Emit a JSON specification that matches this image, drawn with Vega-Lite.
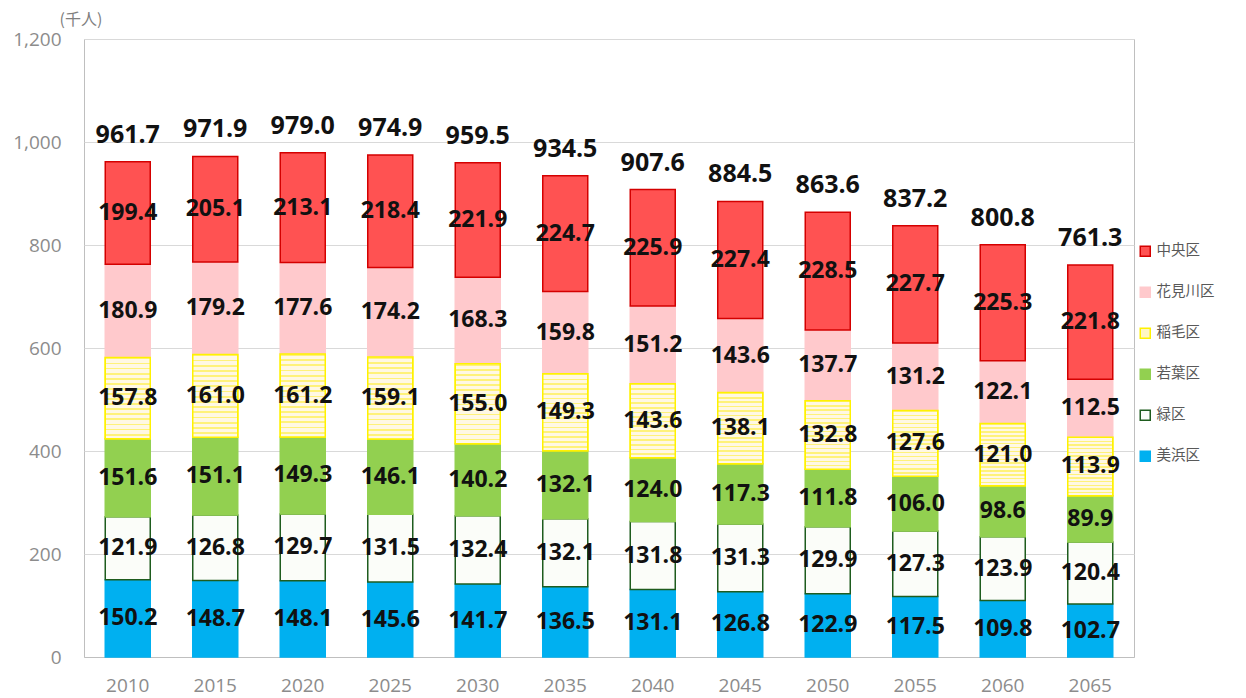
{
  "$schema": "https://vega.github.io/schema/vega-lite/v6.json",
  "width": 1050,
  "height": 618,
  "autosize": "none",
  "padding": {"left": 84, "top": 39, "right": 112, "bottom": 41},
  "background": "#ffffff",
  "config": {
    "view": {"stroke": "#bfbfbf", "strokeWidth": 1},
    "font": "Open Sans",
    "axisY": {
      "titleAngle": 0,
      "titleX": -25,
      "titleY": -20,
      "titleAlign": "left",
      "titleBaseline": "middle",
      "titleFont": "Noto Sans CJK JP",
      "titleFontSize": 16,
      "titleFontWeight": "normal",
      "titleColor": "#7f7f7f",
      "labelFont": "Open Sans",
      "labelFontSize": 19,
      "labelColor": "#8c8c8c",
      "labelPadding": 23,
      "ticks": false,
      "domain": false,
      "grid": true,
      "gridColor": "#d9d9d9",
      "gridWidth": 1
    }
  },
  "datasets": {
    "pop": [
      {"year": "2010", "ward": "美浜区", "code": 12106, "pop": 150.2},
      {"year": "2015", "ward": "美浜区", "code": 12106, "pop": 148.7},
      {"year": "2020", "ward": "美浜区", "code": 12106, "pop": 148.1},
      {"year": "2025", "ward": "美浜区", "code": 12106, "pop": 145.6},
      {"year": "2030", "ward": "美浜区", "code": 12106, "pop": 141.7},
      {"year": "2035", "ward": "美浜区", "code": 12106, "pop": 136.5},
      {"year": "2040", "ward": "美浜区", "code": 12106, "pop": 131.1},
      {"year": "2045", "ward": "美浜区", "code": 12106, "pop": 126.8},
      {"year": "2050", "ward": "美浜区", "code": 12106, "pop": 122.9},
      {"year": "2055", "ward": "美浜区", "code": 12106, "pop": 117.5},
      {"year": "2060", "ward": "美浜区", "code": 12106, "pop": 109.8},
      {"year": "2065", "ward": "美浜区", "code": 12106, "pop": 102.7},
      {"year": "2010", "ward": "緑区", "code": 12105, "pop": 121.9},
      {"year": "2015", "ward": "緑区", "code": 12105, "pop": 126.8},
      {"year": "2020", "ward": "緑区", "code": 12105, "pop": 129.7},
      {"year": "2025", "ward": "緑区", "code": 12105, "pop": 131.5},
      {"year": "2030", "ward": "緑区", "code": 12105, "pop": 132.4},
      {"year": "2035", "ward": "緑区", "code": 12105, "pop": 132.1},
      {"year": "2040", "ward": "緑区", "code": 12105, "pop": 131.8},
      {"year": "2045", "ward": "緑区", "code": 12105, "pop": 131.3},
      {"year": "2050", "ward": "緑区", "code": 12105, "pop": 129.9},
      {"year": "2055", "ward": "緑区", "code": 12105, "pop": 127.3},
      {"year": "2060", "ward": "緑区", "code": 12105, "pop": 123.9},
      {"year": "2065", "ward": "緑区", "code": 12105, "pop": 120.4},
      {"year": "2010", "ward": "若葉区", "code": 12104, "pop": 151.6},
      {"year": "2015", "ward": "若葉区", "code": 12104, "pop": 151.1},
      {"year": "2020", "ward": "若葉区", "code": 12104, "pop": 149.3},
      {"year": "2025", "ward": "若葉区", "code": 12104, "pop": 146.1},
      {"year": "2030", "ward": "若葉区", "code": 12104, "pop": 140.2},
      {"year": "2035", "ward": "若葉区", "code": 12104, "pop": 132.1},
      {"year": "2040", "ward": "若葉区", "code": 12104, "pop": 124.0},
      {"year": "2045", "ward": "若葉区", "code": 12104, "pop": 117.3},
      {"year": "2050", "ward": "若葉区", "code": 12104, "pop": 111.8},
      {"year": "2055", "ward": "若葉区", "code": 12104, "pop": 106.0},
      {"year": "2060", "ward": "若葉区", "code": 12104, "pop": 98.6},
      {"year": "2065", "ward": "若葉区", "code": 12104, "pop": 89.9},
      {"year": "2010", "ward": "稲毛区", "code": 12103, "pop": 157.8},
      {"year": "2015", "ward": "稲毛区", "code": 12103, "pop": 161.0},
      {"year": "2020", "ward": "稲毛区", "code": 12103, "pop": 161.2},
      {"year": "2025", "ward": "稲毛区", "code": 12103, "pop": 159.1},
      {"year": "2030", "ward": "稲毛区", "code": 12103, "pop": 155.0},
      {"year": "2035", "ward": "稲毛区", "code": 12103, "pop": 149.3},
      {"year": "2040", "ward": "稲毛区", "code": 12103, "pop": 143.6},
      {"year": "2045", "ward": "稲毛区", "code": 12103, "pop": 138.1},
      {"year": "2050", "ward": "稲毛区", "code": 12103, "pop": 132.8},
      {"year": "2055", "ward": "稲毛区", "code": 12103, "pop": 127.6},
      {"year": "2060", "ward": "稲毛区", "code": 12103, "pop": 121.0},
      {"year": "2065", "ward": "稲毛区", "code": 12103, "pop": 113.9},
      {"year": "2010", "ward": "花見川区", "code": 12102, "pop": 180.9},
      {"year": "2015", "ward": "花見川区", "code": 12102, "pop": 179.2},
      {"year": "2020", "ward": "花見川区", "code": 12102, "pop": 177.6},
      {"year": "2025", "ward": "花見川区", "code": 12102, "pop": 174.2},
      {"year": "2030", "ward": "花見川区", "code": 12102, "pop": 168.3},
      {"year": "2035", "ward": "花見川区", "code": 12102, "pop": 159.8},
      {"year": "2040", "ward": "花見川区", "code": 12102, "pop": 151.2},
      {"year": "2045", "ward": "花見川区", "code": 12102, "pop": 143.6},
      {"year": "2050", "ward": "花見川区", "code": 12102, "pop": 137.7},
      {"year": "2055", "ward": "花見川区", "code": 12102, "pop": 131.2},
      {"year": "2060", "ward": "花見川区", "code": 12102, "pop": 122.1},
      {"year": "2065", "ward": "花見川区", "code": 12102, "pop": 112.5},
      {"year": "2010", "ward": "中央区", "code": 12101, "pop": 199.4},
      {"year": "2015", "ward": "中央区", "code": 12101, "pop": 205.1},
      {"year": "2020", "ward": "中央区", "code": 12101, "pop": 213.1},
      {"year": "2025", "ward": "中央区", "code": 12101, "pop": 218.4},
      {"year": "2030", "ward": "中央区", "code": 12101, "pop": 221.9},
      {"year": "2035", "ward": "中央区", "code": 12101, "pop": 224.7},
      {"year": "2040", "ward": "中央区", "code": 12101, "pop": 225.9},
      {"year": "2045", "ward": "中央区", "code": 12101, "pop": 227.4},
      {"year": "2050", "ward": "中央区", "code": 12101, "pop": 228.5},
      {"year": "2055", "ward": "中央区", "code": 12101, "pop": 227.7},
      {"year": "2060", "ward": "中央区", "code": 12101, "pop": 225.3},
      {"year": "2065", "ward": "中央区", "code": 12101, "pop": 221.8}
    ],
    "totals": [
      {"year": "2010", "total": 961.7},
      {"year": "2015", "total": 971.9},
      {"year": "2020", "total": 979.0},
      {"year": "2025", "total": 974.9},
      {"year": "2030", "total": 959.5},
      {"year": "2035", "total": 934.5},
      {"year": "2040", "total": 907.6},
      {"year": "2045", "total": 884.5},
      {"year": "2050", "total": 863.6},
      {"year": "2055", "total": 837.2},
      {"year": "2060", "total": 800.8},
      {"year": "2065", "total": 761.3}
    ]
  },
  "data": {"name": "pop"},
  "encoding": {
    "x": {
      "field": "year",
      "type": "ordinal",
      "scale": {"paddingInner": 0.485, "paddingOuter": 0.2425},
      "axis": {
        "title": null,
        "labelAngle": 0,
        "labelFont": "Open Sans",
        "labelFontSize": 19,
        "labelColor": "#8c8c8c",
        "labelPadding": 19,
        "ticks": false,
        "domain": true,
        "domainColor": "#bfbfbf",
        "grid": false
      }
    }
  },
  "layer": [
    {
      "mark": {"type": "bar", "size": 45, "strokeWidth": 1.5},
      "encoding": {
        "y": {
          "field": "pop",
          "type": "quantitative",
          "stack": "zero",
          "title": "(千人)",
          "scale": {"domain": [0, 1200], "nice": false},
          "axis": {"values": [0, 200, 400, 600, 800, 1000, 1200], "format": ",.0f"}
        },
        "order": {"field": "code", "sort": "descending"},
        "fill": {
          "field": "ward",
          "type": "nominal",
          "scale": {
            "domain": ["中央区", "花見川区", "稲毛区", "若葉区", "緑区", "美浜区"],
            "range": ["#FF5252", "#FFC9CC", "#FFF6C4", "#92D050", "#FBFDF9", "#00B0F0"]
          },
          "legend": {
            "title": null,
            "orient": "none",
            "legendX": 1054,
            "legendY": 205,
            "symbolType": "square",
            "symbolSize": 100,
            "symbolStrokeWidth": 1.5,
            "labelFont": "Noto Sans CJK JP",
            "labelFontSize": 14.5,
            "labelColor": "#595959",
            "labelOffset": 4,
            "rowPadding": 24
          }
        },
        "stroke": {
          "field": "ward",
          "type": "nominal",
          "scale": {
            "domain": ["中央区", "花見川区", "稲毛区", "若葉区", "緑区", "美浜区"],
            "range": ["#D40000", "#FFC9CC", "#FFF200", "#92D050", "#1E5C1E", "#00B0F0"]
          },
          "legend": {
            "title": null,
            "orient": "none",
            "legendX": 1054,
            "legendY": 205,
            "symbolType": "square",
            "symbolSize": 100,
            "symbolStrokeWidth": 1.5,
            "labelFont": "Noto Sans CJK JP",
            "labelFontSize": 14.5,
            "labelColor": "#595959",
            "labelOffset": 4,
            "rowPadding": 24
          }
        }
      }
    },
    {
      "transform": [
        {"stack": "pop", "groupby": ["year"], "sort": [{"field": "code", "order": "descending"}], "as": ["s0", "s1"]},
        {"filter": "datum.ward === '稲毛区'"}
      ],
      "mark": {
        "type": "bar",
        "size": 45,
        "stroke": "#FFF200",
        "strokeWidth": 1.5,
        "fill": {
          "gradient": "linear",
          "x1": 0, "y1": 0, "x2": 0, "y2": 1,
          "stops": [
            {"offset": 0, "color": "#FFF27A"}, {"offset": 0.022, "color": "#FFF27A"}, {"offset": 0.022, "color": "#FFF8E4"}, {"offset": 0.0625, "color": "#FFF8E4"},
            {"offset": 0.0625, "color": "#FFF27A"}, {"offset": 0.0845, "color": "#FFF27A"}, {"offset": 0.0845, "color": "#FFF8E4"}, {"offset": 0.125, "color": "#FFF8E4"},
            {"offset": 0.125, "color": "#FFF27A"}, {"offset": 0.147, "color": "#FFF27A"}, {"offset": 0.147, "color": "#FFF8E4"}, {"offset": 0.1875, "color": "#FFF8E4"},
            {"offset": 0.1875, "color": "#FFF27A"}, {"offset": 0.2095, "color": "#FFF27A"}, {"offset": 0.2095, "color": "#FFF8E4"}, {"offset": 0.25, "color": "#FFF8E4"},
            {"offset": 0.25, "color": "#FFF27A"}, {"offset": 0.272, "color": "#FFF27A"}, {"offset": 0.272, "color": "#FFF8E4"}, {"offset": 0.3125, "color": "#FFF8E4"},
            {"offset": 0.3125, "color": "#FFF27A"}, {"offset": 0.3345, "color": "#FFF27A"}, {"offset": 0.3345, "color": "#FFF8E4"}, {"offset": 0.375, "color": "#FFF8E4"},
            {"offset": 0.375, "color": "#FFF27A"}, {"offset": 0.397, "color": "#FFF27A"}, {"offset": 0.397, "color": "#FFF8E4"}, {"offset": 0.4375, "color": "#FFF8E4"},
            {"offset": 0.4375, "color": "#FFF27A"}, {"offset": 0.4595, "color": "#FFF27A"}, {"offset": 0.4595, "color": "#FFF8E4"}, {"offset": 0.5, "color": "#FFF8E4"},
            {"offset": 0.5, "color": "#FFF27A"}, {"offset": 0.522, "color": "#FFF27A"}, {"offset": 0.522, "color": "#FFF8E4"}, {"offset": 0.5625, "color": "#FFF8E4"},
            {"offset": 0.5625, "color": "#FFF27A"}, {"offset": 0.5845, "color": "#FFF27A"}, {"offset": 0.5845, "color": "#FFF8E4"}, {"offset": 0.625, "color": "#FFF8E4"},
            {"offset": 0.625, "color": "#FFF27A"}, {"offset": 0.647, "color": "#FFF27A"}, {"offset": 0.647, "color": "#FFF8E4"}, {"offset": 0.6875, "color": "#FFF8E4"},
            {"offset": 0.6875, "color": "#FFF27A"}, {"offset": 0.7095, "color": "#FFF27A"}, {"offset": 0.7095, "color": "#FFF8E4"}, {"offset": 0.75, "color": "#FFF8E4"},
            {"offset": 0.75, "color": "#FFF27A"}, {"offset": 0.772, "color": "#FFF27A"}, {"offset": 0.772, "color": "#FFF8E4"}, {"offset": 0.8125, "color": "#FFF8E4"},
            {"offset": 0.8125, "color": "#FFF27A"}, {"offset": 0.8345, "color": "#FFF27A"}, {"offset": 0.8345, "color": "#FFF8E4"}, {"offset": 0.875, "color": "#FFF8E4"},
            {"offset": 0.875, "color": "#FFF27A"}, {"offset": 0.897, "color": "#FFF27A"}, {"offset": 0.897, "color": "#FFF8E4"}, {"offset": 0.9375, "color": "#FFF8E4"},
            {"offset": 0.9375, "color": "#FFF27A"}, {"offset": 0.9595, "color": "#FFF27A"}, {"offset": 0.9595, "color": "#FFF8E4"}, {"offset": 1, "color": "#FFF8E4"}
          ]
        }
      },
      "encoding": {
        "y": {"field": "s0", "type": "quantitative", "title": "(千人)", "axis": {"values": [0, 200, 400, 600, 800, 1000, 1200], "format": ",.0f"}},
        "y2": {"field": "s1"}
      }
    },
    {
      "mark": {"type": "text", "font": "Open Sans", "fontWeight": "bold", "fontSize": 23, "color": "#111111", "baseline": "middle"},
      "encoding": {
        "y": {"field": "pop", "type": "quantitative", "stack": "zero", "bandPosition": 0.5, "title": "(千人)", "axis": {"values": [0, 200, 400, 600, 800, 1000, 1200], "format": ",.0f"}},
        "order": {"field": "code", "sort": "descending"},
        "detail": {"field": "ward"},
        "text": {"field": "pop", "type": "quantitative", "format": ".1f"}
      }
    },
    {
      "data": {"name": "totals"},
      "mark": {"type": "text", "font": "Open Sans", "fontWeight": "bold", "fontSize": 25, "color": "#111111", "baseline": "alphabetic", "dy": -19},
      "encoding": {
        "y": {"field": "total", "type": "quantitative", "title": "(千人)", "axis": {"values": [0, 200, 400, 600, 800, 1000, 1200], "format": ",.0f"}},
        "text": {"field": "total", "type": "quantitative", "format": ".1f"}
      }
    }
  ]
}
